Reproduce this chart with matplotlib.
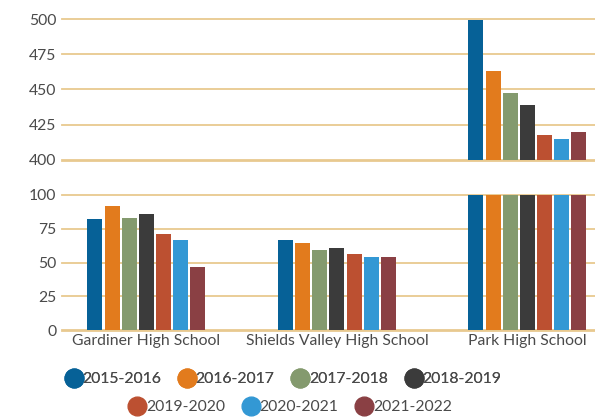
import numpy as np
import matplotlib.pyplot as plt
from matplotlib.lines import Line2D

schools = ["Gardiner High School", "Shields Valley High School", "Park High School"]
years = ["2015-2016", "2016-2017", "2017-2018", "2018-2019",
         "2019-2020", "2020-2021", "2021-2022"]
colors = ["#066197", "#e27b1d", "#849a6e", "#3b3b3b", "#bc5031", "#3398d4", "#8a4044"]

gardiner = [82, 92, 83, 86, 71, 67, 47]
shields = [67, 64.5, 59, 61, 56.5, 54, 54]
park = [500, 463, 447.5, 439, 417.5, 415, 420]

values = np.array([gardiner, shields, park]).T  # rows: years

plt.rcParams['font.family'] = ['Lato', 'DejaVu Sans']
text_col = "#4a4a4a"
grid_col = "#e8c98f"

fig = plt.figure(figsize=(5.95, 4.17), dpi=100)
W, H = 595, 417
left, right = 62 / W, 1.0
ax_top = fig.add_axes([left, 1 - 159.5 / H, right - left, 140 / H])
ax_bot = fig.add_axes([left, 1 - 330 / H, right - left, 135 / H])

x = np.arange(len(schools))
step = 0.09
width = 0.079
offsets = (np.arange(len(years)) - 3) * step

for ax, lo, hi, ticks in [(ax_top, 400, 500, [400, 425, 450, 475, 500]),
                          (ax_bot, 0, 100, [0, 25, 50, 75, 100])]:
    for i, yr in enumerate(years):
        ax.bar(x + offsets[i], values[i], width=width, color=colors[i], zorder=3)
    ax.set_ylim(lo, hi)
    ax.set_xlim(-0.443, 2.355)
    ax.set_yticks(ticks)
    ax.set_yticklabels([str(t) for t in ticks], fontsize=11.3, color=text_col)
    for t in ticks:
        ax.axhline(t, color=grid_col, linewidth=2 if t == lo else 1.3,
                   zorder=2 if t == lo else 0, clip_on=False)
    ax.tick_params(axis='y', length=0, pad=4)
    ax.tick_params(axis='x', length=0)
    for s in ax.spines.values():
        s.set_visible(False)

ax_top.set_xticks([])
ax_bot.set_xticks(x)
ax_bot.set_xticklabels(schools, fontsize=11.3, color=text_col)
ax_bot.tick_params(axis='x', pad=3)

def legend_row(items, xc, y):
    handles = [Line2D([], [], marker='o', linestyle='none', markersize=13.5,
                      markerfacecolor=colors[i], markeredgecolor=colors[i])
               for i in items]
    leg = fig.legend(handles, [years[i] for i in items], loc='center',
                     bbox_to_anchor=(xc, y),
                     ncol=len(items), frameon=False, fontsize=11.3,
                     handlelength=0.9, handletextpad=0.1, columnspacing=1.2,
                     borderpad=0, labelcolor=text_col)
    return leg

fig.add_artist(legend_row([0, 1, 2, 3], 284 / W, 1 - 379 / H))
legend_row([4, 5, 6], 291 / W, 1 - 407 / H)

fig.savefig("out.png", dpi=100)
